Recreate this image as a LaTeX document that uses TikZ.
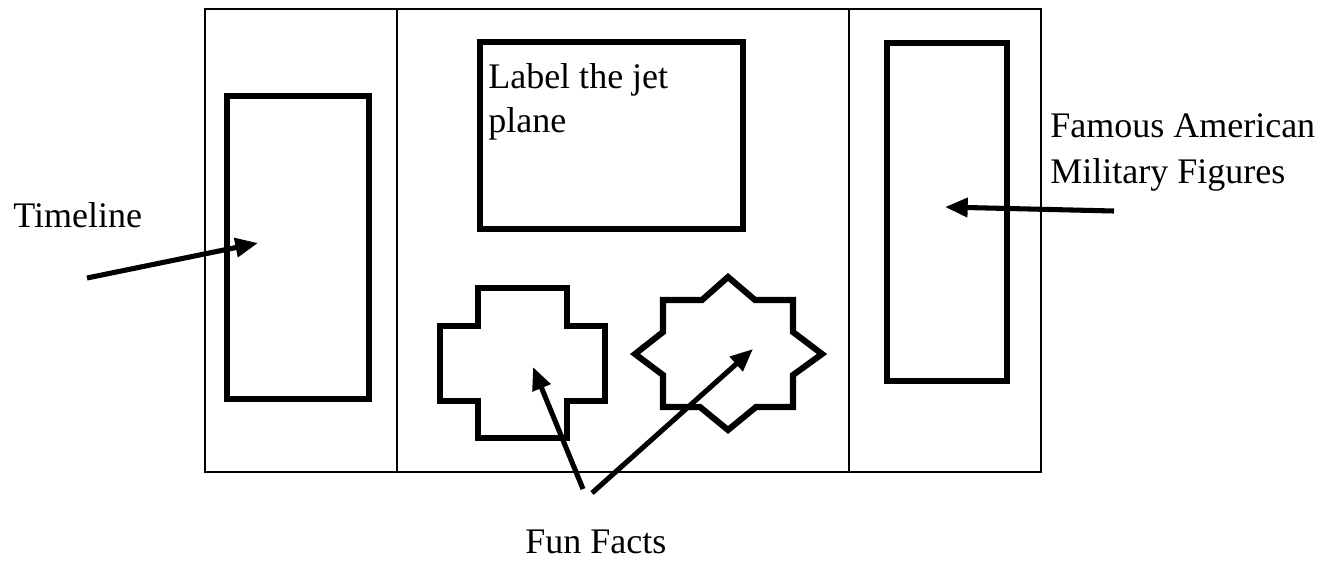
\documentclass[tikz,border=0pt]{standalone}
\usepackage{fontspec}
\setmainfont{Liberation Serif}
\usetikzlibrary{arrows.meta}
\begin{document}
\begin{tikzpicture}[x=0.75pt,y=-0.75pt,
  thin frame/.style={line width=1.9pt, black},
  thick box/.style={line width=4.6pt, black, line join=miter},
  pointer/.style={line width=3.8pt, black, -{Triangle[length=17pt,width=14pt]}},
  lbl/.style={font=\fontsize{27pt}{34.5pt}\selectfont, inner sep=0pt, align=left}
]
\useasboundingbox (0,0) rectangle (1337,565);
\fill[white] (0,0) rectangle (1337,565);
% outer frame and dividers
\draw[thin frame] (205,9) rectangle (1041,472);
\draw[thin frame] (397,9) -- (397,472);
\draw[thin frame] (849,9) -- (849,472);
% inner boxes
\draw[thick box] (227,96) rectangle (369,399);
\draw[thick box] (887,43) rectangle (1007,381);
\draw[thick box] (480,42) rectangle (743,229);
% cross
\draw[thick box] (440,326) -- (478,326) -- (478,288) -- (567,288) -- (567,326) -- (605,326)
  -- (605,401) -- (567,401) -- (567,438) -- (478,438) -- (478,401) -- (440,401) -- cycle;
% star
\draw[thick box] (635,354) -- (663,332) -- (663,300) -- (702,300) -- (728,277) -- (755,300)
  -- (793,300) -- (793,332) -- (822,354) -- (793,375) -- (793,407) -- (756,407) -- (728,430)
  -- (700,407) -- (663,407) -- (663,375) -- cycle;
% labels
\node[lbl, anchor=base west] (timeline) at (13,227) {Timeline};
\node[lbl, anchor=base west] (famous1) at (1050,137) {Famous American};
\node[lbl, anchor=base west] (famous2) at (1050,183) {Military Figures};
\node[lbl, anchor=base west] (jet1) at (488,88) {Label the jet};
\node[lbl, anchor=base west] (jet2) at (488,132) {plane};
\node[lbl, anchor=base west] (fun) at (525,553) {Fun Facts};
% arrow end points
\coordinate (tlTail) at (87,278);
\coordinate (tlTip) at (258,243);
\coordinate (fmTail) at (1114,211);
\coordinate (fmTip) at (945,207);
\coordinate (f1Tail) at (583,489);
\coordinate (f1Tip) at (533,367);
\coordinate (f2Tail) at (592,493);
\coordinate (f2Tip) at (753,349);
\draw[pointer] (tlTail) -- (tlTip);
\draw[pointer] (fmTail) -- (fmTip);
\draw[pointer] (f1Tail) -- (f1Tip);
\draw[pointer] (f2Tail) -- (f2Tip);
\end{tikzpicture}
\end{document}
